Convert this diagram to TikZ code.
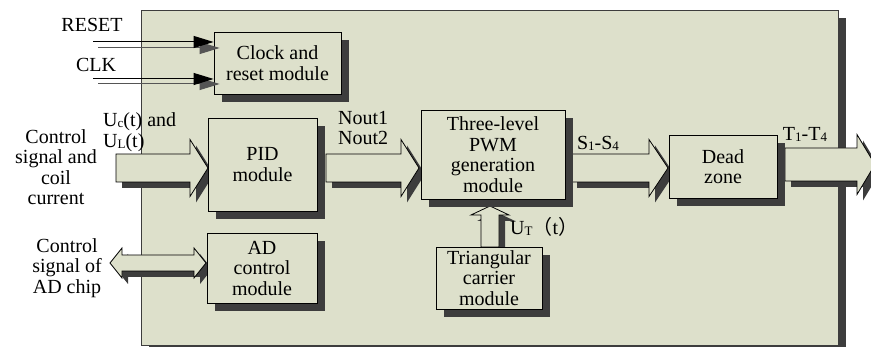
\documentclass[tikz,border=0pt]{standalone}
\usepackage{fontspec}
\setmainfont{Liberation Serif}
\newfontfamily\cjk{Noto Sans CJK SC}
\usetikzlibrary{calc,shadows,arrows.meta}

\definecolor{panelfill}{HTML}{DDE0CB}
\definecolor{shadowgray}{HTML}{3D3D3D}
\definecolor{lightline}{HTML}{555555}

% kleiner Index auf der Grundlinie
\newcommand{\lowsub}[1]{\raisebox{-1pt}{\fontsize{13}{13}\selectfont #1}}

% breiter Pfeil: Ende, Spitze, halbe Breite, halbe Kopfbreite, Kopflaenge
\newcommand{\fatarrow}[5]{%
  \path[fat] let \p1=#1, \p2=#2 in
    (\x1,\y1+#3) -- (\x2-#5,\y1+#3) -- (\x2-#5,\y1+#4) -- (\x2,\y1)
    -- (\x2-#5,\y1-#4) -- (\x2-#5,\y1-#3) -- (\x1,\y1-#3) -- cycle;
}

\tikzset{
  every node/.style={font=\fontsize{20}{20.5}\selectfont, align=center},
  lbl/.style={inner sep=0pt},
  module/.style={draw=black, line width=0.8pt, fill=panelfill, inner sep=0pt,
    drop shadow={shadow xshift=8pt, shadow yshift=-8pt, fill=shadowgray, opacity=1}},
  fat/.style={draw=black, line width=0.8pt, fill=panelfill,
    drop shadow={shadow xshift=6pt, shadow yshift=-6pt, fill=shadowgray, opacity=1}},
  sig/.style={line width=1pt, -{Triangle[length=20pt,width=12pt]}},
}

\begin{document}
\begin{tikzpicture}[x=1pt,y=1pt]
  \useasboundingbox (0,0) rectangle (871,-347);

  % Gehaeuse
  \node[module, draw=shadowgray, minimum width=697pt, minimum height=335pt] (panel) at (489.5,-177.5) {};

  % Hilfspunkte
  \coordinate (in)  at (116,-168);
  \coordinate (adl) at (110,-263);
  \coordinate (out) at (875,-164.5);

  % breite Pfeile (unter den Modulen)
  \path (262.5,-164.5) coordinate (pidc) (493,-154.5) coordinate (pwmc)
        (723,-166.5) coordinate (deadc) (489,-278) coordinate (tric);
  \fatarrow{(in)}{(208,-168)}{14}{28.5}{18}
  \fatarrow{(326,-168)}{(419,-168)}{14}{28.5}{18}
  \fatarrow{(571,-168)}{(668,-168)}{14}{28.5}{19}
  \fatarrow{(785,-164.5)}{(out)}{16.5}{30}{18}

  % Doppelpfeil AD
  \path[fat] let \p1=(adl), \p2=(206,-263) in
    (\x1,\y1) -- (\x1+12,\y1+15) -- (\x1+12,\y1+8) -- (\x2-12,\y1+8)
    -- (\x2-12,\y1+15) -- (\x2,\y1) -- (\x2-12,\y1-15) -- (\x2-12,\y1-8)
    -- (\x1+12,\y1-8) -- (\x1+12,\y1-15) -- cycle;

  % Pfeil nach oben U_T(t)
  \path[fat] let \p1=(490,-247), \p2=(490,-206) in
    (\x1-9,\y1) -- (\x1-9,\y2-9) -- (\x1-19,\y2-9) -- (\x2,\y2)
    -- (\x1+19,\y2-9) -- (\x1+9,\y2-9) -- (\x1+9,\y1) -- cycle;

  % Module
  \node[module, minimum width=127pt, minimum height=62pt] (clk) at (277.5,-63) {Clock and\\reset module};
  \node[module, minimum width=109pt, minimum height=93pt] (pid) at (pidc) {PID\\module};
  \node[module, minimum width=110pt, minimum height=70pt] (ad) at (262,-268) {AD\\control\\module};
  \node[module, minimum width=144pt, minimum height=89pt] (pwm) at (pwmc) {Three-level\\PWM\\generation\\module};
  \node[module, minimum width=106pt, minimum height=62pt] (tri) at (tric) {Triangular\\carrier\\module};
  \node[module, minimum width=108pt, minimum height=63pt] (dead) at (deadc) {Dead\\zone};

  % RESET und CLK
  \coordinate (rst) at (93,-42);
  \coordinate (ck)  at (93,-79);
  \draw[sig, lightline] ($(rst)+(5,-6)$) -- ($(rst -| clk.west)+(6,-6)$);
  \draw[sig] (rst) -- (rst -| clk.west);
  \draw[sig, lightline] ($(ck)+(5,-5)$) -- ($(ck -| clk.west)+(6,-5)$);
  \draw[sig] (ck) -- (ck -| clk.west);

  % Beschriftungen
  \node[lbl] (rstlbl) at (92,-25) {RESET};
  \node[lbl] (cklbl) at (96,-65) {CLK};
  \node[lbl] (ctrl) at (56,-167) {Control\\signal and\\coil\\current};
  \node[lbl, align=left, anchor=west] (ucl) at (103,-132) {U\lowsub{c}(t) and\\U\lowsub{L}(t)};
  \node[lbl, align=left, anchor=west] (nout) at (338,-128) {Nout1\\Nout2};
  \node[lbl] (adsig) at (67,-268) {Control\\signal of\\AD chip};
  \node[lbl] (slbl) at (598,-143) {S\lowsub{1}-S\lowsub{4}};
  \node[lbl] (tlbl) at (805,-134) {T\lowsub{1}-T\lowsub{4}};
  \node[lbl, anchor=west] (utlbl) at (510,-227) {U\lowsub{T}{\cjk （}t{\cjk ）}};

\end{tikzpicture}
\end{document}
